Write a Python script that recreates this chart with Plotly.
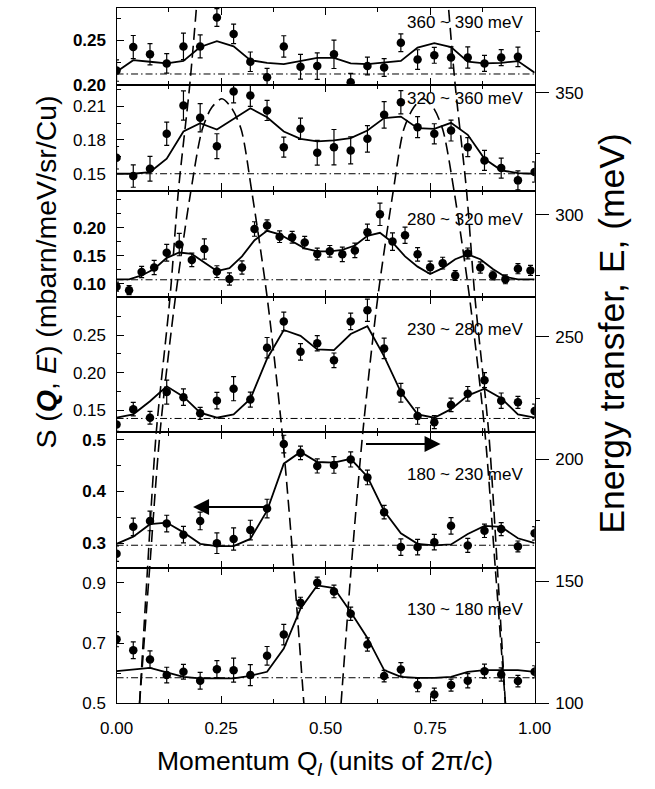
import plotly.graph_objects as go

# ---------------- momentum grids (units of 2pi/c) ----------------
q_04 = [0.00, 0.04, 0.08, 0.12, 0.16, 0.20, 0.24, 0.28, 0.32, 0.36, 0.40, 0.44, 0.48,
        0.52, 0.56, 0.60, 0.64, 0.68, 0.72, 0.76, 0.80, 0.84, 0.88, 0.92, 0.96, 1.00]
q_04_p1 = [0.00, 0.04, 0.08, 0.12, 0.16, 0.20, 0.24, 0.28, 0.32, 0.36, 0.40, 0.44, 0.48,
           0.52, 0.56, 0.60, 0.64, 0.68, 0.72, 0.76, 0.80, 0.84, 0.88, 0.92, 0.96]
q_03 = [0.00, 0.03, 0.06, 0.09, 0.12, 0.15, 0.18, 0.21, 0.24, 0.27, 0.30, 0.33, 0.36,
        0.39, 0.42, 0.45, 0.48, 0.51, 0.54, 0.57, 0.60, 0.63, 0.66, 0.69, 0.72, 0.75,
        0.78, 0.81, 0.84, 0.87, 0.90, 0.93, 0.96, 0.99]
q_03_fit = [0.00, 0.03, 0.06, 0.09, 0.12, 0.15, 0.18, 0.21, 0.24, 0.27, 0.30, 0.33, 0.36,
            0.39, 0.42, 0.45, 0.48, 0.51, 0.54, 0.57, 0.60, 0.63, 0.66, 0.69, 0.72, 0.75,
            0.78, 0.81, 0.84, 0.87, 0.90, 0.93, 0.96, 0.99, 1.00]

# ---------------- energy windows (top to bottom) ----------------
windows = ["360 ~ 390 meV", "320 ~ 360 meV", "280 ~ 320 meV",
           "230 ~ 280 meV", "180 ~ 230 meV", "130 ~ 180 meV"]

# ---------------- 360 ~ 390 meV ----------------
s1 = [0.216, 0.2426, 0.2344, 0.2241, 0.2433, 0.2433, 0.2759, 0.2574, 0.226, 0.2085,
      0.2433, 0.2204, 0.2211, 0.2344, 0.203, 0.2211, 0.2196, 0.2474, 0.2285, 0.2333,
      0.2307, 0.2307, 0.2241, 0.2307, 0.2315]
e1 = [0.012, 0.013, 0.012, 0.011, 0.015, 0.013, 0.010, 0.011, 0.011, 0.010, 0.012,
      0.014, 0.015, 0.016, 0.010, 0.010, 0.010, 0.010, 0.011, 0.009, 0.012, 0.012,
      0.009, 0.009, 0.011]
f1 = [0.2148, 0.2278, 0.226, 0.2241, 0.227, 0.2426, 0.2493, 0.2433, 0.2278, 0.2248,
      0.2233, 0.2267, 0.2304, 0.2304, 0.2241, 0.2233, 0.2248, 0.227, 0.2419, 0.247,
      0.2426, 0.226, 0.2241, 0.2248, 0.2267, 0.2137]

# ---------------- 320 ~ 360 meV ----------------
s2 = [0.1642, 0.1479, 0.1544, 0.1855, 0.2106, 0.1997, 0.1745, 0.223, 0.2195, 0.2062,
      0.1736, 0.1899, 0.1686, 0.1736, 0.1707, 0.181, 0.2023, 0.2135, 0.1914, 0.1855,
      0.1884, 0.1736, 0.1618, 0.155, 0.1441, 0.1515]
e2 = [0.010, 0.0099, 0.011, 0.0103, 0.013, 0.0126, 0.011, 0.010, 0.0096, 0.0089,
      0.0089, 0.0095, 0.011, 0.0157, 0.012, 0.0118, 0.0118, 0.0103, 0.0093, 0.0089,
      0.0093, 0.0084, 0.0089, 0.0089, 0.0084, 0.009]
f2 = [0.15, 0.15, 0.1515, 0.1633, 0.1875, 0.1949, 0.1893, 0.1988, 0.2082, 0.2002,
      0.1875, 0.181, 0.1787, 0.1796, 0.1816, 0.1884, 0.1994, 0.2008, 0.1905, 0.1899,
      0.1952, 0.1846, 0.1633, 0.153, 0.1506, 0.15]

# ---------------- 280 ~ 320 meV ----------------
s3 = [0.0947, 0.0884, 0.121, 0.129, 0.1553, 0.17, 0.1426, 0.1621, 0.1216, 0.1084,
      0.129, 0.1979, 0.2042, 0.1842, 0.1832, 0.1737, 0.1532, 0.1579, 0.1526, 0.1595,
      0.1921, 0.2242, 0.1753, 0.1868, 0.1526, 0.1295, 0.1368, 0.1147, 0.1542, 0.129,
      0.1147, 0.1079, 0.1268, 0.1237]
e3 = [0.008, 0.008, 0.010, 0.0126, 0.015, 0.020, 0.012, 0.018, 0.0105, 0.011, 0.012,
      0.013, 0.010, 0.0105, 0.0105, 0.011, 0.0105, 0.0105, 0.013, 0.013, 0.0145, 0.020,
      0.0158, 0.0145, 0.0121, 0.011, 0.0105, 0.0087, 0.0097, 0.010, 0.008, 0.008,
      0.009, 0.009]
f3 = [0.1079, 0.1079, 0.1147, 0.1263, 0.1463, 0.1558, 0.1532, 0.1384, 0.1226, 0.1279,
      0.1489, 0.1779, 0.1947, 0.1884, 0.1753, 0.1632, 0.1579, 0.1579, 0.1605, 0.1684,
      0.1858, 0.1911, 0.1737, 0.1489, 0.1305, 0.1174, 0.1279, 0.1437, 0.1526, 0.1437,
      0.1263, 0.1121, 0.1079, 0.1079, 0.1079]

# ---------------- 230 ~ 280 meV ----------------
s4 = [0.131, 0.1514, 0.14, 0.1741, 0.1673, 0.1459, 0.1627, 0.1786, 0.1641, 0.2332,
      0.2682, 0.2277, 0.2391, 0.2164, 0.2682, 0.2832, 0.2323, 0.1732, 0.1423, 0.1341,
      0.157, 0.1718, 0.19, 0.1627, 0.1605, 0.149]
e4 = [0.009, 0.009, 0.0085, 0.016, 0.011, 0.008, 0.011, 0.016, 0.010, 0.0136, 0.0125,
      0.011, 0.0102, 0.0098, 0.011, 0.0148, 0.0136, 0.0125, 0.011, 0.0086, 0.009,
      0.0098, 0.010, 0.0102, 0.008, 0.009]
f4 = [0.14, 0.1445, 0.162, 0.1818, 0.168, 0.1468, 0.14, 0.1445, 0.165, 0.2185,
      0.2568, 0.2491, 0.2309, 0.23, 0.2514, 0.2618, 0.2218, 0.1741, 0.1445, 0.14,
      0.1514, 0.1695, 0.1786, 0.166, 0.1445, 0.14]

# ---------------- 180 ~ 230 meV ----------------
s5 = [0.2797, 0.3316, 0.343, 0.338, 0.3165, 0.343, 0.30, 0.3082, 0.3253, 0.367,
      0.4918, 0.4747, 0.4494, 0.4513, 0.462, 0.4272, 0.36, 0.2924, 0.2924, 0.3019,
      0.3335, 0.2956, 0.324, 0.3272, 0.2937, 0.319]
e5 = [0.015, 0.017, 0.019, 0.016, 0.016, 0.017, 0.020, 0.0215, 0.019, 0.018, 0.017,
      0.013, 0.0136, 0.016, 0.0146, 0.0142, 0.013, 0.016, 0.015, 0.015, 0.016, 0.0136,
      0.013, 0.0127, 0.0105, 0.013]
f5 = [0.2987, 0.3127, 0.3367, 0.3399, 0.3209, 0.2987, 0.2943, 0.2943, 0.3082, 0.363,
      0.4538, 0.4766, 0.457, 0.4557, 0.4633, 0.4285, 0.362, 0.319, 0.2987, 0.2956,
      0.2975, 0.3177, 0.3335, 0.3316, 0.3095, 0.30]

# ---------------- 130 ~ 180 meV ----------------
s6 = [0.7127, 0.6763, 0.6455, 0.5937, 0.6047, 0.5749, 0.6135, 0.6102, 0.5937, 0.6576,
      0.7281, 0.8339, 0.90, 0.8713, 0.7975, 0.695, 0.5904, 0.6124, 0.5606, 0.5298,
      0.5606, 0.5749, 0.6069, 0.5959, 0.5738, 0.6047]
e6 = [0.025, 0.0276, 0.0287, 0.026, 0.0243, 0.028, 0.028, 0.040, 0.035, 0.031, 0.034,
      0.018, 0.019, 0.021, 0.022, 0.022, 0.019, 0.023, 0.022, 0.021, 0.020, 0.0237,
      0.023, 0.022, 0.019, 0.020]
f6 = [0.6069, 0.6124, 0.6179, 0.6025, 0.5882, 0.5826, 0.5826, 0.5826, 0.5915, 0.6047,
      0.6818, 0.814, 0.8912, 0.8824, 0.803, 0.7171, 0.6102, 0.5882, 0.5848, 0.5848,
      0.5882, 0.6047, 0.6102, 0.6102, 0.6102, 0.6047]

# flat background level of each cut
background = [0.2122, 0.150, 0.107, 0.139, 0.296, 0.585]

# left-axis ranges, major and minor ticks of each cut
y_ranges = [[0.20, 0.2867], [0.135, 0.229], [0.0765, 0.2666],
            [0.1207, 0.301], [0.252, 0.5147], [0.50, 0.949]]
y_ticks = [[0.20, 0.25], [0.15, 0.18, 0.21], [0.10, 0.15, 0.20],
           [0.15, 0.20, 0.25], [0.3, 0.4, 0.5], [0.5, 0.7, 0.9]]
y_ticktext = [["0.20", "0.25"], ["0.15", "0.18", "0.21"], ["0.10", "0.15", "0.20"],
              ["0.15", "0.20", "0.25"], ["0.3", "0.4", "0.5"], ["0.5", "0.7", "0.9"]]
y_minor = [[0.225, 0.275], [0.165, 0.195, 0.225], [0.125, 0.175, 0.225, 0.25],
           [0.175, 0.225, 0.275], [0.35, 0.45], [0.6, 0.8]]
bold_ticks = [True, False, True, False, True, False]
label_y = [0.2704, 0.2171, 0.2147, 0.258, 0.4335, 0.812]

# arrows in the 180 ~ 230 meV cut: (tail Q, head Q, level)
arrows = [(0.357, 0.183, 0.370), (0.593, 0.775, 0.4918)]

# dispersion boundaries on the energy-transfer axis
lower_left_q = [0.055, 0.079, 0.104, 0.141, 0.178, 0.205, 0.228, 0.252, 0.274, 0.298,
                0.323, 0.360, 0.396, 0.424, 0.448]
lower_left_e = [100, 155, 211, 266.5, 310, 335, 344, 347.5, 344, 335, 310, 266.5, 211, 155, 100]
upper_left_q = [0.055, 0.074, 0.095, 0.128, 0.148, 0.175, 0.191]
upper_left_e = [100, 155, 211, 266.5, 310, 353, 384.7]
lower_right_q = [0.537, 0.561, 0.589, 0.625, 0.662, 0.687, 0.711, 0.733, 0.757, 0.780,
                 0.807, 0.844, 0.881, 0.906, 0.930]
lower_right_e = [100, 155, 211, 266.5, 310, 335, 344, 347.5, 344, 335, 310, 266.5, 211, 155, 100]
upper_right_q = [0.930, 0.911, 0.890, 0.857, 0.837, 0.810, 0.794]
upper_right_e = [100, 155, 211, 266.5, 310, 353, 384.7]

panels = [
    (q_04_p1, s1, e1, q_04, f1),
    (q_04, s2, e2, q_04, f2),
    (q_03, s3, e3, q_03_fit, f3),
    (q_04, s4, e4, q_04, f4),
    (q_04, s5, e5, q_04, f5),
    (q_04, s6, e6, q_04, f6),
]

# ---------------- layout geometry ----------------
W, H = 655, 789
X0, X1 = 105, 546
edges_px = [7, 85, 192.3, 300, 437.3, 575, 712.3]
x_dom = [X0 / W, X1 / W]

FONT = "Liberation Sans, Arial, Helvetica, sans-serif"
BLACK = "#000000"
FRAME = 1.3

fig = go.Figure()
layout = dict(
    width=W, height=H, autosize=False,
    margin=dict(l=0, r=0, t=0, b=0),
    paper_bgcolor="white", plot_bgcolor="rgba(0,0,0,0)",
    showlegend=False,
    font=dict(family=FONT, color=BLACK, size=17),
)

annotations = []
for i, (qd, sd, ed, qf, fd) in enumerate(panels):
    n = i + 1
    xa = "x" if n == 1 else f"x{n}"
    ya = "y" if n == 1 else f"y{n}"
    top, bot = edges_px[i], edges_px[i + 1]
    y_dom = [1 - bot / H, 1 - top / H]

    # flat background
    fig.add_trace(go.Scatter(
        x=[0, 1], y=[background[i], background[i]], mode="lines",
        line=dict(color=BLACK, width=1, dash="7px,3px,1.5px,3px"),
        xaxis=xa, yaxis=ya, hoverinfo="skip"))
    # model curve
    fig.add_trace(go.Scatter(
        x=qf, y=fd, mode="lines", line=dict(color=BLACK, width=1.8),
        xaxis=xa, yaxis=ya, hoverinfo="skip"))
    # measured intensity
    fig.add_trace(go.Scatter(
        x=qd, y=sd, mode="markers",
        marker=dict(color=BLACK, size=8.5, line=dict(width=0)),
        error_y=dict(type="data", array=ed, visible=True, color=BLACK,
                     thickness=1.2, width=2.5),
        xaxis=xa, yaxis=ya))

    layout["xaxis" if n == 1 else f"xaxis{n}"] = dict(
        domain=x_dom, range=[0, 1], anchor=ya,
        showline=True, linecolor=BLACK, linewidth=FRAME, mirror="ticks",
        ticks="inside", ticklen=7, tickwidth=1.3, tickcolor=BLACK,
        tickvals=[0, 0.25, 0.5, 0.75, 1.0],
        ticktext=["0.00", "0.25", "0.50", "0.75", "1.00"],
        showticklabels=(n == 6), ticklabelstandoff=9,
        tickfont=dict(size=17, family=FONT, color=BLACK),
        minor=dict(tickvals=[0.125, 0.375, 0.625, 0.875], ticks="inside",
                   ticklen=4, tickwidth=1.2, tickcolor=BLACK),
        showgrid=False, zeroline=False, fixedrange=True,
    )
    layout["yaxis" if n == 1 else f"yaxis{n}"] = dict(
        domain=y_dom, range=y_ranges[i], anchor=xa,
        showline=True, linecolor=BLACK, linewidth=FRAME, mirror=True,
        ticks="inside", ticklen=7, tickwidth=1.3, tickcolor=BLACK,
        tickvals=y_ticks[i], ticktext=y_ticktext[i], ticklabelstandoff=6,
        tickfont=dict(size=17, family=FONT, color=BLACK,
                      weight="bold" if bold_ticks[i] else "normal"),
        minor=dict(tickvals=y_minor[i], ticks="inside", ticklen=4,
                   tickwidth=1.2, tickcolor=BLACK),
        showgrid=False, zeroline=False, fixedrange=True,
    )
    annotations.append(dict(
        x=0.978, y=label_y[i], xref=xa, yref=ya, text=windows[i],
        showarrow=False, xanchor="right", yanchor="middle",
        font=dict(size=17, family=FONT, color=BLACK)))

# arrows pointing to the axis each kind of curve belongs to
for tail, head, lvl in arrows:
    annotations.append(dict(
        x=head, y=lvl, ax=tail, ay=lvl, xref="x5", yref="y5",
        axref="x5", ayref="y5", showarrow=True, arrowhead=2, arrowsize=1.6,
        arrowwidth=2, arrowcolor=BLACK, text=""))

# dispersion curves on the energy-transfer axis
for qq, ee in [(lower_left_q, lower_left_e), (upper_left_q, upper_left_e),
               (lower_right_q, lower_right_e), (upper_right_q, upper_right_e)]:
    fig.add_trace(go.Scatter(
        x=qq, y=ee, mode="lines", line=dict(color=BLACK, width=1.6, dash="12px,6px",
                                            shape="spline", smoothing=0.8),
        xaxis="x7", yaxis="y7", hoverinfo="skip"))

layout["xaxis7"] = dict(domain=x_dom, range=[0, 1], anchor="y7", visible=False,
                        fixedrange=True)
layout["yaxis7"] = dict(
    domain=[1 - edges_px[-1] / H, 1 - edges_px[0] / H], range=[100, 384.7],
    anchor="x7", side="right",
    showline=True, linecolor=BLACK, linewidth=FRAME,
    ticks="outside", ticklen=13, tickwidth=1.3, tickcolor=BLACK,
    tickvals=[100, 150, 200, 250, 300, 350], ticklabelstandoff=3,
    tickfont=dict(size=17, family=FONT, color=BLACK),
    minor=dict(dtick=25, ticks="outside", ticklen=4, tickwidth=1.2, tickcolor=BLACK),
    showgrid=False, zeroline=False, fixedrange=True,
)

# axis titles
annotations.append(dict(
    x=325 / W, y=1 - 773 / H, xref="paper", yref="paper", showarrow=False,
    text="Momentum Q<sub><i>l</i></sub> (units of 2\u03c0/c)",
    xanchor="center", yanchor="middle", font=dict(size=26.5, family=FONT, color=BLACK)))
annotations.append(dict(
    x=31 / W, y=1 - 275 / H, xref="paper", yref="paper", showarrow=False,
    text="S (<b><i>Q</i></b>, <i>E</i>) (mbarn/meV/sr/Cu)", textangle=-90,
    xanchor="center", yanchor="middle", font=dict(size=28.5, family=FONT, color=BLACK)))
annotations.append(dict(
    x=628 / W, y=1 - 337 / H, xref="paper", yref="paper", showarrow=False,
    text="Energy transfer, E, (meV)", textangle=-90,
    xanchor="center", yanchor="middle", font=dict(size=35.5, family=FONT, color=BLACK)))

layout["annotations"] = annotations
fig.update_layout(**layout)
fig.write_html("out.html")
